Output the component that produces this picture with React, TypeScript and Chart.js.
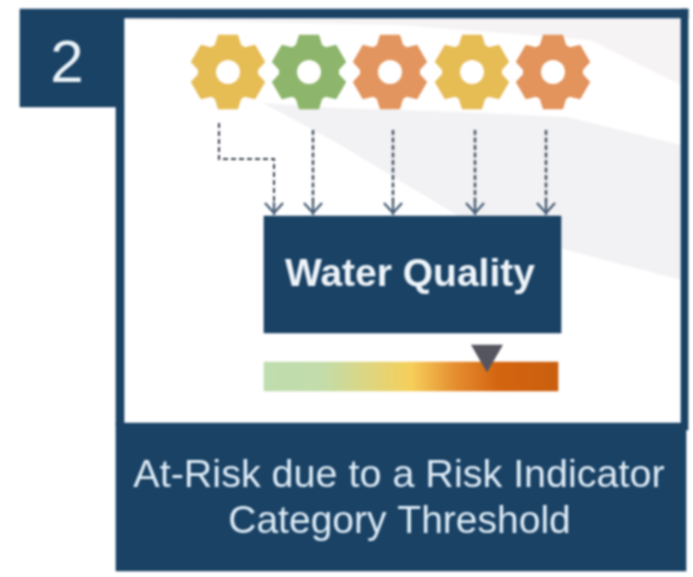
import React, { useEffect, useRef } from "react";
import { Chart, registerables } from "chart.js";

Chart.register(...registerables);

// ---- values (picture units on both axes) ----
const badgeLabel = "2";
const boxLabel = "Water Quality";
const captionLines = ["At-Risk due to a Risk Indicator", "Category Threshold"];

const gearX = [228, 309, 390, 472, 553];
const gearY = [72, 72, 72, 72, 72];
const gearColours = ["#E6BC55", "#8DB56B", "#E3955F", "#E6BC55", "#E3935C"];

const elbowX = [219, 219, 274, 274];
const elbowY = [123, 159, 159, 205];

const arrowX = [313, 393, 475, 546];
const arrowStartY = [130, 130, 130, 130];
const arrowEndY = [205, 205, 205, 205];
const arrowTipX = [274, 313, 393, 475, 546];
const arrowTipY = [209, 209, 209, 209, 209];

const markerX = [487];
const markerY = [354];

// rectangles: [left, right, top, bottom]
const badgeRect = [20, 124, 9, 107];
const frameTopRect = [124, 688, 9, 18];
const frameLeftRect = [116, 124, 107, 425];
const frameRightRect = [681, 688, 9, 430];
const captionRect = [116, 686, 423, 571];
const boxRect = [264, 561, 216, 333];
const scaleRect = [264, 558, 362, 391];

const scaleStops = [0, 0.2, 0.5, 0.65, 0.8, 1];
const scaleColours = ["#BFDDAE", "#C3DCAA", "#F6CF5A", "#E58E30", "#D4640F", "#C9600F"];

const topBandX = [124, 400, 590, 681];
const topBandUpper = [18, 18, 18, 18];
const topBandLower = [20, 25, 40, 85];

const midBandX = [263, 337, 460, 567, 681];
const midBandUpper = [103, 108, 112, 117, 145];
const midBandLower = [103, 143, 217, 250, 280];

const NAVY = "#1A4265";
const TEXT_FONT = '"Liberation Sans", Arial, sans-serif';

function makeGear(colour: string) {
  const c = document.createElement("canvas");
  c.width = 84;
  c.height = 84;
  const g = c.getContext("2d")!;
  g.translate(42, 42);
  const rb = 30;
  const ro = 38.5;
  const base = (26 * Math.PI) / 180;
  const tip = (15 * Math.PI) / 180;
  g.beginPath();
  for (let i = 0; i < 6; i++) {
    const a = -Math.PI / 2 + (i * Math.PI) / 3;
    g.arc(0, 0, rb, a - Math.PI / 3 + base, a - base);
    g.lineTo(ro * Math.cos(a - tip), ro * Math.sin(a - tip));
    g.lineTo(ro * Math.cos(a + tip), ro * Math.sin(a + tip));
    g.lineTo(rb * Math.cos(a + base), rb * Math.sin(a + base));
  }
  g.closePath();
  g.fillStyle = colour;
  g.fill();
  g.globalCompositeOperation = "destination-out";
  g.beginPath();
  g.arc(0, 0, 12, 0, Math.PI * 2);
  g.fill();
  return c;
}

function makeArrowHead() {
  const c = document.createElement("canvas");
  c.width = 24;
  c.height = 18;
  const g = c.getContext("2d")!;
  g.strokeStyle = "#4A6078";
  g.lineWidth = 2.4;
  g.beginPath();
  g.moveTo(3, 3);
  g.lineTo(12, 13);
  g.lineTo(21, 3);
  g.moveTo(12, 2);
  g.lineTo(12, 15);
  g.stroke();
  return c;
}

function rectDataset(rect: number[], colour: any) {
  const [l, r, t, b] = rect;
  return {
    type: "bar",
    indexAxis: "y",
    grouped: false,
    data: [{ x: [l, r], y: (t + b) / 2 }],
    barThickness: b - t,
    backgroundColor: colour,
    borderWidth: 0,
  };
}

function bandDatasets(xs: number[], upper: number[], lower: number[], colour: string) {
  const lowerSet = {
    type: "line",
    data: xs.map((x, i) => ({ x, y: lower[i] })),
    pointRadius: 0,
    borderWidth: 0,
    fill: false,
  };
  const upperSet = {
    type: "line",
    data: xs.map((x, i) => ({ x, y: upper[i] })),
    pointRadius: 0,
    borderWidth: 0,
    backgroundColor: colour,
    fill: "+1",
  };
  return [upperSet, lowerSet];
}

const textPlugin = {
  id: "pictureText",
  afterDatasetsDraw(chart: any) {
    const { ctx, scales } = chart;
    const put = (s: string, x: number, y: number, font: string, colour: string) => {
      ctx.save();
      ctx.font = font;
      ctx.fillStyle = colour;
      ctx.textAlign = "center";
      ctx.textBaseline = "alphabetic";
      ctx.fillText(s, scales.x.getPixelForValue(x), scales.y.getPixelForValue(y));
      ctx.restore();
    };
    put(badgeLabel, 67, 82, `60px ${TEXT_FONT}`, "#EAF2F8");
    put(boxLabel, 410, 286, `bold 39px ${TEXT_FONT}`, "#EEF4F9");
    put(captionLines[0], 399, 487, `39.5px ${TEXT_FONT}`, "#DDEBF6");
    put(captionLines[1], 399.5, 533, `39px ${TEXT_FONT}`, "#DDEBF6");
  },
};

export default function App() {
  const ref = useRef<HTMLCanvasElement>(null);

  useEffect(() => {
    document.body.style.margin = "0";
    document.body.style.background = "#FFFFFF";
    const arrowHead = makeArrowHead();
    const gears = gearColours.map(makeGear);

    // first dataset in this list is painted first
    const layers: any[] = [
      ...bandDatasets(topBandX, topBandUpper, topBandLower, "#F6F3F5"),
      ...bandDatasets(midBandX, midBandUpper, midBandLower, "#F2F2F5"),
      rectDataset(frameTopRect, NAVY),
      rectDataset(frameLeftRect, NAVY),
      rectDataset(frameRightRect, NAVY),
      rectDataset(badgeRect, NAVY),
      rectDataset(captionRect, NAVY),
      rectDataset(boxRect, NAVY),
      rectDataset(scaleRect, (ctx: any) => {
        const s = ctx.chart.scales.x;
        const x0 = s.getPixelForValue(scaleRect[0]);
        const x1 = s.getPixelForValue(scaleRect[1]);
        if (!Number.isFinite(x0) || !Number.isFinite(x1)) return scaleColours[0];
        const g = ctx.chart.ctx.createLinearGradient(x0, 0, x1, 0);
        scaleStops.forEach((p, i) => g.addColorStop(p, scaleColours[i]));
        return g;
      }),
      {
        type: "scatter",
        data: gearX.map((x, i) => ({ x, y: gearY[i] })),
        pointStyle: gears,
        pointRadius: 38,
      },
      {
        type: "line",
        data: elbowX.map((x, i) => ({ x, y: elbowY[i] })),
        borderColor: "#38424F",
        borderWidth: 2,
        borderDash: [5, 3],
        pointRadius: 0,
        fill: false,
      },
      ...arrowX.map((x, i) => ({
        type: "line",
        data: [{ x, y: arrowStartY[i] }, { x, y: arrowEndY[i] }],
        borderColor: "#4A5563",
        borderWidth: 2.5,
        borderDash: [5, 2.5],
        pointRadius: 0,
        fill: false,
      })),
      {
        type: "scatter",
        data: arrowTipX.map((x, i) => ({ x, y: arrowTipY[i] })),
        pointStyle: arrowHead,
        pointRadius: 10,
      },
      {
        type: "scatter",
        data: markerX.map((x, i) => ({ x, y: markerY[i] })),
        pointStyle: "triangle",
        rotation: 180,
        pointRadius: 18.5,
        backgroundColor: "#55555F",
        borderWidth: 0,
      },
    ];

    const total = layers.length;
    layers.forEach((d, i) => {
      d.order = total - i;
    });

    const chart = new Chart(ref.current!, {
      type: "line",
      data: { datasets: layers },
      plugins: [textPlugin],
      options: {
        animation: false,
        responsive: false,
        events: [],
        layout: { padding: 0, autoPadding: false },
        scales: {
          x: { type: "linear", display: false, min: 0, max: 693, offset: false },
          y: { type: "linear", display: false, min: 0, max: 577, reverse: true, offset: false },
        },
        plugins: { legend: { display: false }, tooltip: { enabled: false }, title: { display: false } },
      },
    } as any);
    return () => chart.destroy();
  }, []);

  return (
    <canvas
      ref={ref}
      width={693}
      height={577}
      style={{ position: "absolute", left: 0, top: 0, width: 693, height: 577, filter: "blur(0.8px)" }}
    />
  );
}
